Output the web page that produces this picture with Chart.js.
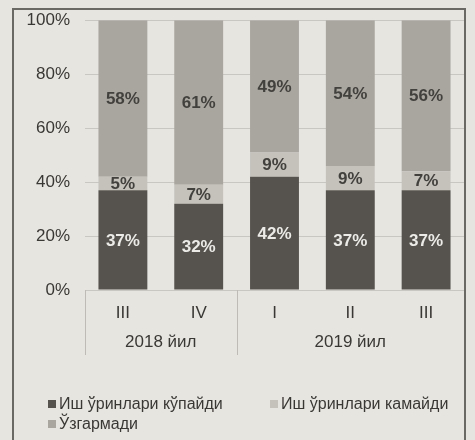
<!DOCTYPE html>
<html>
<head>
<meta charset="utf-8">
<script src="https://cdn.jsdelivr.net/npm/chart.js@4"></script>
<style>
  html, body { margin: 0; padding: 0; }
  body {
    width: 475px; height: 440px; overflow: hidden; position: relative;
    background: #e7e5e0;
    font-family: "Liberation Sans", Arial, sans-serif;
  }
  #frame {
    position: absolute; left: 12px; top: 8px; width: 450px; height: 460px;
    border: 2px solid #6b6964;
  }
  #chart-wrap { position: absolute; left: 0; top: -5px; width: 475px; height: 370px; }
  #legend { position: absolute; left: 0; top: 0; width: 475px; height: 440px; pointer-events: none; }
  .lg-item {
    position: absolute; font-size: 16px; color: #3a3835; line-height: 18px; white-space: nowrap;
  }
  .lg-box { display: inline-block; width: 8px; height: 8px; margin-right: 3px; vertical-align: 1px; }
</style>
</head>
<body>
<div id="frame"></div>
<div id="chart-wrap"><canvas id="chart" width="475" height="370"></canvas></div>
<div id="legend"></div>
<script>
  // quarters and the year groups they belong to
  const quarters = ['III', 'IV', 'I', 'II', 'III'];
  const yearGroups = [
    { label: '2018 йил', from: 0, to: 1 },
    { label: '2019 йил', from: 2, to: 4 }
  ];

  // share of enterprises, %
  const increased = [37, 32, 42, 37, 37];
  const decreased = [5, 7, 9, 9, 7];
  const unchanged = [58, 61, 49, 54, 56];

  const seriesNames = ['Иш ўринлари кўпайди', 'Иш ўринлари камайди', 'Ўзгармади'];
  const seriesColors = ['#56534e', '#c5c2bc', '#a9a6a0'];

  const FONT = '"Liberation Sans", Arial, sans-serif';

  // percent labels in the middle of each segment
  const segmentLabels = {
    id: 'segmentLabels',
    afterDatasetsDraw(chart) {
      const ctx = chart.ctx;
      ctx.save();
      ctx.font = 'bold 17px ' + FONT;
      ctx.textAlign = 'center';
      ctx.textBaseline = 'middle';
      chart.data.datasets.forEach((ds, i) => {
        const meta = chart.getDatasetMeta(i);
        ctx.fillStyle = i === 0 ? '#ecebe8' : '#43413d';
        meta.data.forEach((bar, j) => {
          const y = (bar.y + bar.base) / 2;
          ctx.fillText(ds.data[j] + '%', bar.x, y + 1);
        });
      });
      ctx.restore();
    }
  };

  // year labels under the quarter labels, with separator lines
  const yearAxis = {
    id: 'yearAxis',
    afterDraw(chart) {
      const xs = chart.scales.x;
      const ctx = chart.ctx;
      const top = xs.top;
      const edge = idx => {
        if (idx < 0) return xs.left;
        if (idx >= quarters.length - 1) return xs.right;
        return (xs.getPixelForValue(idx) + xs.getPixelForValue(idx + 1)) / 2;
      };
      ctx.save();
      ctx.strokeStyle = '#bebbb6';
      ctx.lineWidth = 1;
      [xs.left, edge(1)].forEach(x => {
        ctx.beginPath();
        ctx.moveTo(Math.round(x) + 0.5, top);
        ctx.lineTo(Math.round(x) + 0.5, top + 65);
        ctx.stroke();
      });
      ctx.font = '17px ' + FONT;
      ctx.fillStyle = '#3a3835';
      ctx.textAlign = 'center';
      ctx.textBaseline = 'middle';
      yearGroups.forEach(g => {
        const a = edge(g.from - 1);
        const b = edge(g.to);
        ctx.fillText(g.label, (a + b) / 2, top + 52);
      });
      ctx.restore();
    }
  };

  const datasets = [increased, decreased, unchanged].map((vals, i) => ({
    label: seriesNames[i],
    data: vals,
    backgroundColor: seriesColors[i],
    borderWidth: 0,
    barPercentage: 0.645,
    categoryPercentage: 1
  }));

  new Chart(document.getElementById('chart'), {
    type: 'bar',
    data: { labels: quarters, datasets: datasets },
    options: {
      responsive: false,
      animation: false,
      layout: { padding: { top: 0, right: 11, left: 0, bottom: 0 } },
      plugins: { legend: { display: false }, tooltip: { enabled: false } },
      scales: {
        x: {
          stacked: true,
          grid: { display: false },
          border: { display: false },
          ticks: { color: '#3a3835', font: { family: FONT, size: 17 }, padding: 5 },
          afterFit(scale) { scale.height = 75; }
        },
        y: {
          stacked: true,
          min: 0,
          max: 100,
          grid: { color: '#c9c7c2', drawTicks: false },
          border: { display: false },
          ticks: {
            stepSize: 20,
            padding: 15,
            color: '#3a3835',
            font: { family: FONT, size: 17 },
            callback: v => v + '%'
          },
          afterFit(scale) { scale.width = 85; }
        }
      }
    },
    plugins: [segmentLabels, yearAxis]
  });

  // legend laid out like the original: two items on the first row, one below
  const legendPos = [[48, 395], [270, 395], [48, 415]];
  const legend = document.getElementById('legend');
  seriesNames.forEach((name, i) => {
    const item = document.createElement('div');
    item.className = 'lg-item';
    item.style.left = legendPos[i][0] + 'px';
    item.style.top = legendPos[i][1] + 'px';
    item.innerHTML = '<span class="lg-box" style="background:' + seriesColors[i] + '"></span>' + name;
    legend.appendChild(item);
  });
</script>
</body>
</html>
